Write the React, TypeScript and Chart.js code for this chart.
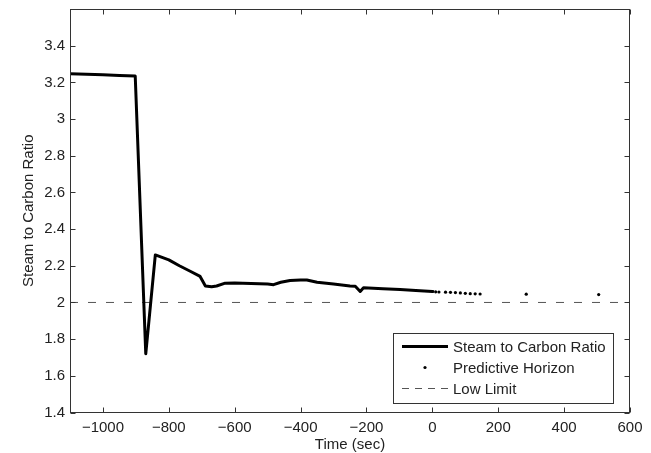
import React, { useEffect, useRef } from "react";
import { Chart, registerables } from "chart.js";

Chart.register(...registerables);

// ---- data ----
const timeSec = [
  -1100, -1000, -950, -902, -870, -841, -800, -768, -735, -705, -689, -670, -655, -629,
  -600, -550, -500, -482, -460, -432, -400, -381, -350, -300, -250, -234, -219, -209,
  -150, -98, -50, 0, 5,
];
const steamCarbon = [
  3.247, 3.242, 3.238, 3.235, 1.72, 2.259, 2.232, 2.2, 2.17, 2.142, 2.09, 2.086, 2.09, 2.105,
  2.106, 2.104, 2.1, 2.097, 2.11, 2.12, 2.123, 2.122, 2.11, 2.1, 2.09, 2.088, 2.06, 2.08,
  2.075, 2.07, 2.065, 2.06, 2.059,
];
const horizonTime = [10, 20, 40, 55, 70, 85, 100, 115, 130, 145, 285, 505];
const horizonRatio = [2.058, 2.057, 2.056, 2.055, 2.054, 2.052, 2.05, 2.048, 2.047, 2.046, 2.045, 2.043];
const limitTime = [-1100, 600];
const limitRatio = [2, 2];
const xTicks = [-1000, -800, -600, -400, -200, 0, 200, 400, 600];
const yTicks = [1.4, 1.6, 1.8, 2, 2.2, 2.4, 2.6, 2.8, 3, 3.2, 3.4];
const legendLabels = ["Steam to Carbon Ratio", "Predictive Horizon", "Low Limit"];
const xTitle = "Time (sec)";
const yTitle = "Steam to Carbon Ratio";

const FONT = "'Liberation Sans', Arial, Helvetica, sans-serif";
const TEXT = "#222";
const DASH_COLOR = "#555";

const fmt = (v: number) => {
  const s = String(Math.round(v * 10) / 10);
  return s.replace("-", "\u2212");
};

const framePlugin = {
  id: "frame",
  afterDraw(chart: any) {
    const { ctx, chartArea, scales } = chart;
    const { left, right, top, bottom } = chartArea;
    const xs = scales.x;
    const ys = scales.y;
    ctx.save();
    ctx.strokeStyle = "#333";
    ctx.lineWidth = 1;
    const L = Math.round(left) + 0.5;
    const R = Math.round(right) - 0.5;
    const T = Math.round(top) + 0.5;
    const B = Math.round(bottom) - 0.5;
    ctx.strokeRect(L, T, R - L, B - T);
    const tl = 5;
    ctx.beginPath();
    xTicks.forEach((v) => {
      const p = Math.round(xs.getPixelForValue(v)) + 0.5;
      ctx.moveTo(p, B);
      ctx.lineTo(p, B - tl);
      ctx.moveTo(p, T);
      ctx.lineTo(p, T + tl);
    });
    yTicks.forEach((v) => {
      const p = Math.round(ys.getPixelForValue(v)) + 0.5;
      ctx.moveTo(L, p);
      ctx.lineTo(L + tl, p);
      ctx.moveTo(R, p);
      ctx.lineTo(R - tl, p);
    });
    ctx.stroke();

    // legend box
    const bx = 393.5, by = 333.5, bw = 220, bh = 70;
    ctx.fillStyle = "#fff";
    ctx.fillRect(bx, by, bw, bh);
    ctx.strokeStyle = "#333";
    ctx.strokeRect(bx, by, bw, bh);
    const rows = [346.5, 367.5, 388.5];
    const sx0 = 402, sx1 = 448, tx = 453;
    ctx.strokeStyle = "#000";
    ctx.lineWidth = 3;
    ctx.beginPath();
    ctx.moveTo(sx0, rows[0]);
    ctx.lineTo(sx1, rows[0]);
    ctx.stroke();
    ctx.fillStyle = "#000";
    ctx.beginPath();
    ctx.arc((sx0 + sx1) / 2, rows[1], 1.6, 0, Math.PI * 2);
    ctx.fill();
    ctx.strokeStyle = DASH_COLOR;
    ctx.lineWidth = 1;
    ctx.setLineDash([7, 6]);
    ctx.beginPath();
    ctx.moveTo(sx0, rows[2]);
    ctx.lineTo(sx1, rows[2]);
    ctx.stroke();
    ctx.setLineDash([]);
    ctx.fillStyle = TEXT;
    ctx.font = `15px ${FONT}`;
    ctx.textBaseline = "middle";
    ctx.textAlign = "left";
    legendLabels.forEach((t, i) => ctx.fillText(t, tx, rows[i] + 1));
    ctx.restore();
  },
};

export default function App() {
  const ref = useRef<HTMLCanvasElement | null>(null);
  useEffect(() => {
    document.body.style.margin = "0";
    const canvas = ref.current;
    if (!canvas) return;
    const chart = new Chart(canvas, {
      type: "scatter",
      data: {
        datasets: [
          {
            label: legendLabels[0],
            data: timeSec.map((t, i) => ({ x: t, y: steamCarbon[i] })),
            showLine: true,
            borderColor: "#000",
            backgroundColor: "#000",
            borderWidth: 3,
            borderJoinStyle: "round",
            borderCapStyle: "butt",
            pointRadius: 0,
            tension: 0,
            order: 1,
          },
          {
            label: legendLabels[1],
            data: horizonTime.map((t, i) => ({ x: t, y: horizonRatio[i] })),
            showLine: false,
            pointRadius: 1.6,
            pointBackgroundColor: "#000",
            pointBorderWidth: 0,
            order: 0,
          },
          {
            label: legendLabels[2],
            data: limitTime.map((t, i) => ({ x: t, y: limitRatio[i] })),
            showLine: true,
            borderColor: DASH_COLOR,
            borderWidth: 1,
            borderDash: [8, 10],
            pointRadius: 0,
            order: 2,
          },
        ],
      },
      options: {
        responsive: false,
        animation: false,
        events: [],
        layout: { padding: { top: 9, right: 21, left: 0, bottom: 0 } },
        plugins: { legend: { display: false }, tooltip: { enabled: false } },
        scales: {
          x: {
            type: "linear",
            min: -1100,
            max: 600,
            grid: { display: false, drawTicks: false },
            border: { display: false },
            afterBuildTicks: (s: any) => {
              s.ticks = xTicks.map((v) => ({ value: v }));
            },
            afterFit: (s: any) => {
              s.height = 40.5;
              s.paddingLeft = 0;
              s.paddingRight = 0;
            },
            ticks: {
              padding: 6.5,
              maxRotation: 0,
              autoSkip: false,
              color: TEXT,
              font: { family: FONT, size: 15 },
              callback: (v: any) => fmt(Number(v)),
            },
            title: {
              display: true,
              text: xTitle,
              color: TEXT,
              font: { family: FONT, size: 15 },
              padding: { top: 0, bottom: -1 },
            },
          },
          y: {
            type: "linear",
            min: 1.4,
            max: 3.6,
            grid: { display: false, drawTicks: false },
            border: { display: false },
            afterBuildTicks: (s: any) => {
              s.ticks = yTicks.map((v) => ({ value: v }));
            },
            afterFit: (s: any) => {
              s.width = 70;
              s.paddingTop = 0;
              s.paddingBottom = 0;
            },
            ticks: {
              padding: 5,
              autoSkip: false,
              color: TEXT,
              font: { family: FONT, size: 15 },
              callback: (v: any) => fmt(Number(v)),
            },
            title: {
              display: true,
              text: yTitle,
              color: TEXT,
              font: { family: FONT, size: 15 },
              padding: { top: 19.5, bottom: 0 },
            },
          },
        },
      },
      plugins: [framePlugin],
    } as any);
    return () => chart.destroy();
  }, []);
  return (
    <div style={{ width: 651, height: 453, background: "#fff" }}>
      <canvas ref={ref} width={651} height={453} style={{ display: "block" }} />
    </div>
  );
}
